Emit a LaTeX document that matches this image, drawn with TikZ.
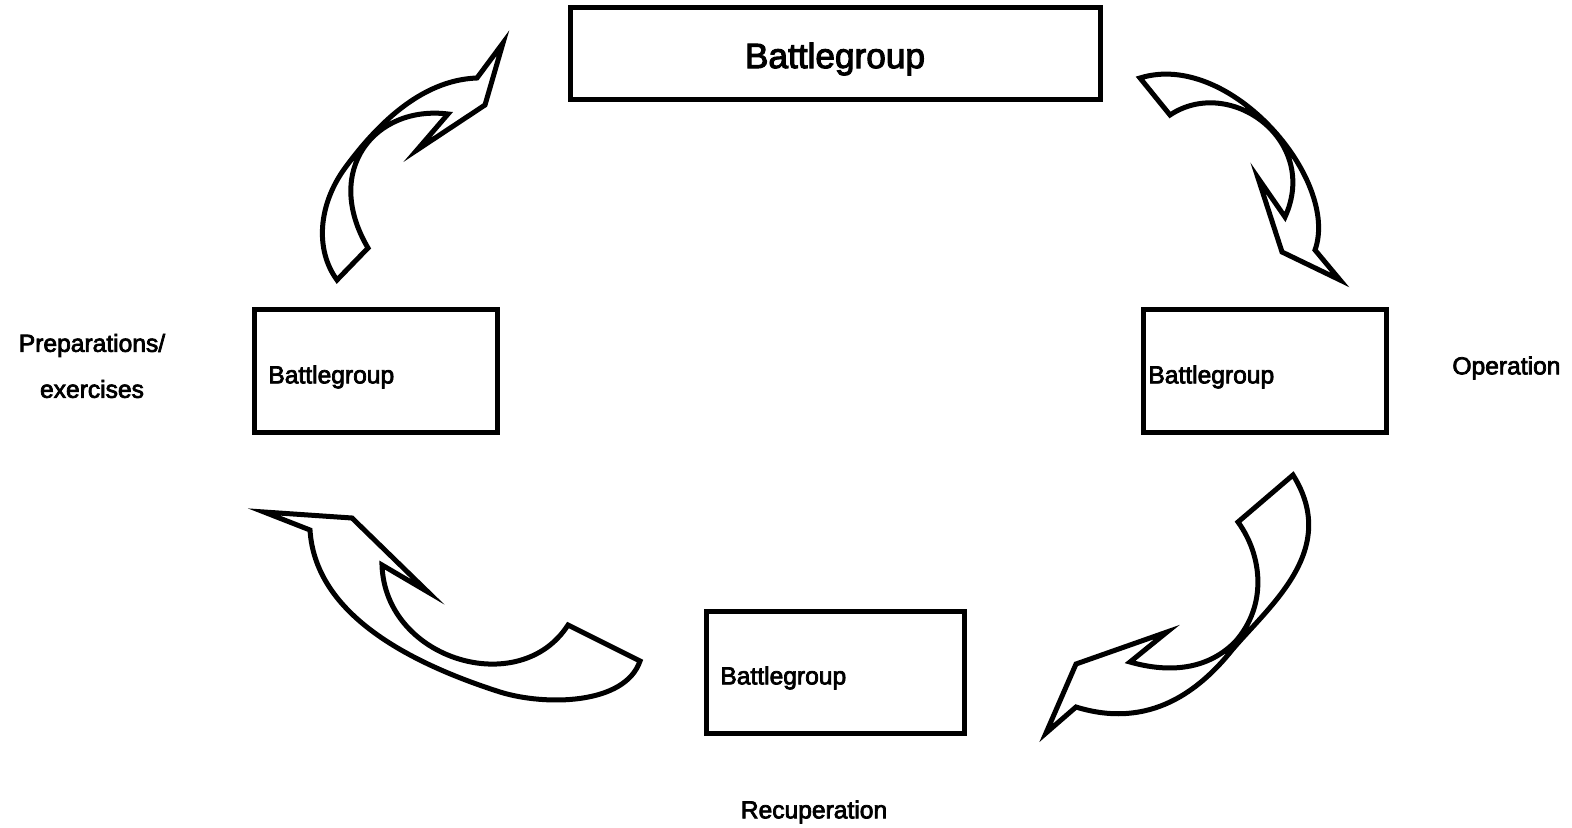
\documentclass[tikz,border=0pt]{standalone}
\usepackage{fontspec}
\setmainfont{Liberation Sans}[FakeBold=3]
\begin{document}
\begin{tikzpicture}[x=0.5pt,y=-0.5pt,
  box/.style={draw=black,line width=2.5pt,fill=white},
  lbl/.style={inner sep=0pt,font=\fontsize{12.3}{14}\selectfont},
  biglbl/.style={inner sep=0pt,font=\fontsize{17.6}{20}\selectfont},
  carrow/.style={draw=black,line width=2.5pt,fill=white,line join=miter}]
\useasboundingbox (0,0) rectangle (1572,828);
% boxes
\draw[box] (570,8) rectangle (1100,100);
\draw[box] (254,310) rectangle (497,432);
\draw[box] (1143,310) rectangle (1386,432);
\draw[box] (706,611) rectangle (964,733);
\node[biglbl] (top) at (835,59) {Battlegroup};
\node[lbl,anchor=west] (left) at (268,377) {Battlegroup};
\node[lbl,anchor=west] (right) at (1148,377) {Battlegroup};
\node[lbl,anchor=west] (bottom) at (720,678) {Battlegroup};
% outside labels
\node[lbl,align=center] (prep) at (92,366) {Preparations/\\[9pt]exercises};
\node[lbl,anchor=west] (op) at (1452,368) {Operation};
\node[lbl] (rec) at (814,812) {Recuperation};
% arrow 1 (left -> top)
\draw[carrow] (337,280) .. controls (315,250) and (318,205) .. (345,168)
  .. controls (375,127) and (420,80) .. (477,78)
  -- (503,43) -- (485,105) -- (417,150) -- (448,114)
  .. controls (375,105) and (322,170) .. (368,248) -- cycle;
% arrow 2 (top -> right)
\draw[carrow] (1140,78) -- (1170,115)
  .. controls (1230,75) and (1320,140) .. (1285,217)
  -- (1258,178) -- (1282,252) -- (1340,280) -- (1315,250)
  .. controls (1340,180) and (1230,50) .. (1140,78) -- cycle;
% arrow 3 (right -> bottom)
\draw[carrow] (1293,475) -- (1238,522)
  .. controls (1262,555) and (1268,605) .. (1235,642)
  .. controls (1205,672) and (1165,672) .. (1130,662)
  -- (1167,632) -- (1076,664) -- (1046,733) -- (1076,707)
  .. controls (1150,730) and (1200,690) .. (1232,650)
  .. controls (1270,605) and (1340,550) .. (1293,475) -- cycle;
% arrow 4 (bottom -> left)
\draw[carrow] (568,625) -- (640,661)
  .. controls (625,705) and (545,706) .. (500,692)
  .. controls (400,660) and (315,610) .. (310,530)
  -- (264,512) -- (352,518) -- (428,592) -- (382,565)
  .. controls (385,660) and (520,700) .. (568,625) -- cycle;
\end{tikzpicture}
\end{document}
